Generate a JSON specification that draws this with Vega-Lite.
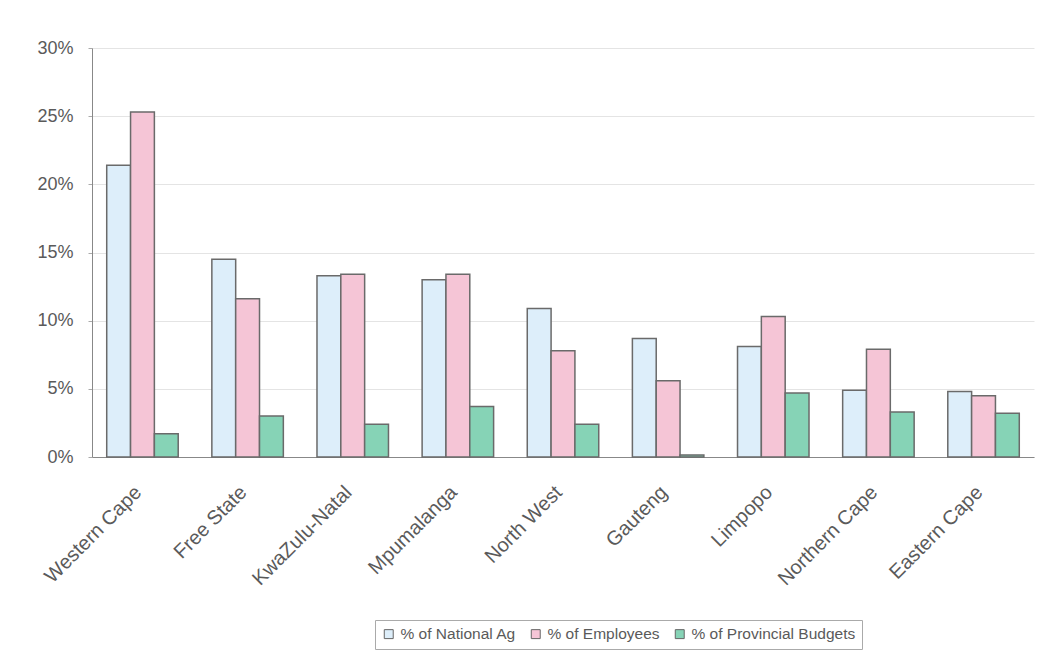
{
  "$schema": "https://vega.github.io/schema/vega-lite/v6.json",
  "width": 942,
  "height": 409,
  "autosize": {"type": "none"},
  "padding": {"left": 92, "top": 48, "right": 8, "bottom": 202},
  "background": "white",
  "config": {
    "font": "Liberation Sans",
    "view": {"stroke": null}
  },
  "data": {
    "values": [
      {"province": "Western Cape", "series": "% of National Ag", "value": 0.214},
      {"province": "Western Cape", "series": "% of Employees", "value": 0.253},
      {"province": "Western Cape", "series": "% of Provincial Budgets", "value": 0.017},
      {"province": "Free State", "series": "% of National Ag", "value": 0.145},
      {"province": "Free State", "series": "% of Employees", "value": 0.116},
      {"province": "Free State", "series": "% of Provincial Budgets", "value": 0.030},
      {"province": "KwaZulu-Natal", "series": "% of National Ag", "value": 0.133},
      {"province": "KwaZulu-Natal", "series": "% of Employees", "value": 0.134},
      {"province": "KwaZulu-Natal", "series": "% of Provincial Budgets", "value": 0.024},
      {"province": "Mpumalanga", "series": "% of National Ag", "value": 0.130},
      {"province": "Mpumalanga", "series": "% of Employees", "value": 0.134},
      {"province": "Mpumalanga", "series": "% of Provincial Budgets", "value": 0.037},
      {"province": "North West", "series": "% of National Ag", "value": 0.109},
      {"province": "North West", "series": "% of Employees", "value": 0.078},
      {"province": "North West", "series": "% of Provincial Budgets", "value": 0.024},
      {"province": "Gauteng", "series": "% of National Ag", "value": 0.087},
      {"province": "Gauteng", "series": "% of Employees", "value": 0.056},
      {"province": "Gauteng", "series": "% of Provincial Budgets", "value": 0.0015},
      {"province": "Limpopo", "series": "% of National Ag", "value": 0.081},
      {"province": "Limpopo", "series": "% of Employees", "value": 0.103},
      {"province": "Limpopo", "series": "% of Provincial Budgets", "value": 0.047},
      {"province": "Northern Cape", "series": "% of National Ag", "value": 0.049},
      {"province": "Northern Cape", "series": "% of Employees", "value": 0.079},
      {"province": "Northern Cape", "series": "% of Provincial Budgets", "value": 0.033},
      {"province": "Eastern Cape", "series": "% of National Ag", "value": 0.048},
      {"province": "Eastern Cape", "series": "% of Employees", "value": 0.045},
      {"province": "Eastern Cape", "series": "% of Provincial Budgets", "value": 0.032}
    ]
  },
  "mark": {"type": "bar", "stroke": "#6a6a6a", "strokeWidth": 1.5},
  "encoding": {
    "x": {
      "field": "province",
      "type": "nominal",
      "sort": null,
      "title": null,
      "scale": {"paddingInner": 0.32, "paddingOuter": 0.14},
      "axis": {
        "labelAngle": -45,
        "labelAlign": "right",
        "labelBaseline": "middle",
        "labelFontSize": 20,
        "labelColor": "#5a5a5a",
        "labelPadding": 32,
        "labelOffset": -4,
        "domainColor": "#888888",
        "ticks": false,
        "grid": false
      }
    },
    "xOffset": {
      "field": "series",
      "type": "nominal",
      "sort": ["% of National Ag", "% of Employees", "% of Provincial Budgets"]
    },
    "y": {
      "field": "value",
      "type": "quantitative",
      "title": null,
      "scale": {"domain": [0, 0.3]},
      "axis": {
        "values": [0, 0.05, 0.1, 0.15, 0.2, 0.25, 0.3],
        "format": ".0%",
        "labelFontSize": 18,
        "labelColor": "#5a5a5a",
        "domainColor": "#888888",
        "tickColor": "#aaaaaa",
        "tickSize": 4,
        "labelPadding": 15,
        "gridColor": "#e4e4e4",
        "grid": true
      }
    },
    "fill": {
      "field": "series",
      "type": "nominal",
      "sort": ["% of National Ag", "% of Employees", "% of Provincial Budgets"],
      "scale": {
        "domain": ["% of National Ag", "% of Employees", "% of Provincial Budgets"],
        "range": ["#ddeefa", "#f5c5d6", "#86d3b6"]
      },
      "legend": {
        "title": null,
        "orient": "none",
        "direction": "horizontal",
        "legendX": 283,
        "legendY": 572,
        "symbolType": "square",
        "symbolSize": 80,
        "symbolStrokeColor": "#666666",
        "symbolStrokeWidth": 1,
        "labelFontSize": 15.5,
        "labelLimit": 400,
        "labelColor": "#5a5a5a",
        "strokeColor": "#aaaaaa",
        "padding": 6,
        "columnPadding": 12
      }
    }
  }
}
